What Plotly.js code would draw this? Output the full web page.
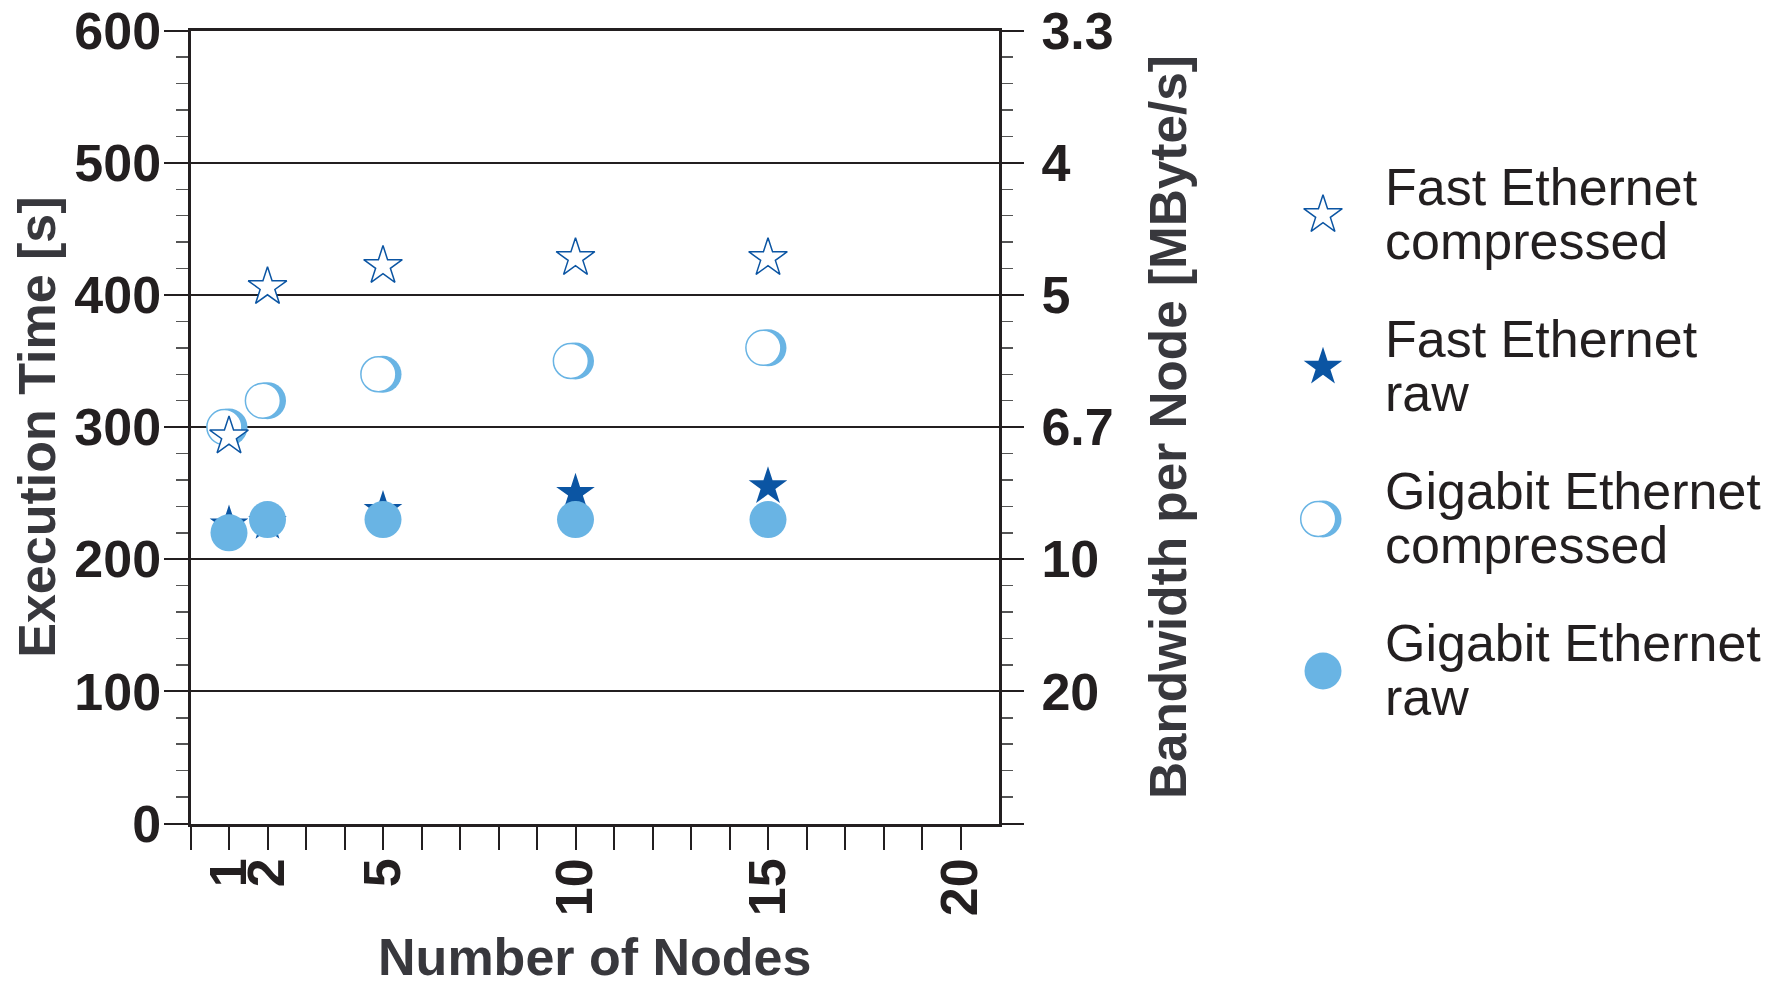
<!DOCTYPE html>
<html>
<head>
<meta charset="utf-8">
<script src="https://cdn.plot.ly/plotly-3.0.1.min.js"></script>
<style>
  html, body { margin: 0; padding: 0; background: #ffffff; }
  #chart { width: 1778px; height: 986px; }
</style>
</head>
<body>
<div id="chart"></div>
<script>
// ---- data ----
const nodes = [1, 2, 5, 10, 15];
const fastCompressed = [293, 406, 422, 428, 428];
const fastRaw = [226, 228, 237, 250, 255];
const gigaCompressed = [300, 320, 340, 350, 360];
const gigaRaw = [220, 230, 230, 230, 230];

const seriesNames = ['Fast Ethernet compressed', 'Fast Ethernet raw', 'Gigabit Ethernet compressed', 'Gigabit Ethernet raw'];
const legendLine1 = ['Fast Ethernet', 'Fast Ethernet', 'Gigabit Ethernet', 'Gigabit Ethernet'];
const legendLine2 = ['compressed', 'raw', 'compressed', 'raw'];

const xTickVals = [0, 1, 2, 3, 4, 5, 6, 7, 8, 9, 10, 11, 12, 13, 14, 15, 16, 17, 18, 19, 20];
const xTickText = ['', '1', '2', '', '', '5', '', '', '', '', '10', '', '', '', '', '15', '', '', '', '', '20'];
const yTickVals = [0, 100, 200, 300, 400, 500, 600];
const yTickText = ['0', '100', '200', '300', '400', '500', '600'];
const bwTickText = ['', '20', '10', '6.7', '5', '4', '3.3'];

// ---- styles ----
const DARK = '#0b55a3';
const LIGHT = '#69b4e4';
const INK = '#231f20';
const TITLE_INK = '#38383d';
const FAMILY = '"Liberation Sans", Arial, Helvetica, sans-serif';
const W = 1778, H = 986;
const plotL = 190.5, plotR = 999, plotT = 30.7, plotB = 823.5;
const xDom = [plotL / W, plotR / W];
const yDom = [1 - plotB / H, 1 - plotT / H];
const ringShift = 0.12;

const legX = 1323;
const legDomX = [(legX - 40) / W, (legX + 40) / W];
const legTop = 139, legBot = 747;
const legDomY = [1 - legBot / H, 1 - legTop / H];

const tickFont = { family: FAMILY, size: 52, weight: 'bold', color: INK };
const titleFont = { family: FAMILY, size: 52, weight: 'bold', color: TITLE_INK };
const rightTitleFont = { family: FAMILY, size: 51.3, weight: 'bold', color: TITLE_INK };

const traces = [
  // Gigabit compressed: blue body (main subplot)
  { x: nodes, y: gigaCompressed, xaxis: 'x', yaxis: 'y', type: 'scatter', mode: 'markers',
    marker: { symbol: 'circle', size: 37, color: LIGHT }, showlegend: false, hoverinfo: 'skip' },
  // Fast raw
  { x: nodes, y: fastRaw, xaxis: 'x', yaxis: 'y2', type: 'scatter', mode: 'markers', name: seriesNames[1],
    marker: { symbol: 'star', size: 29, color: DARK, line: { width: 0 } }, showlegend: false },
  // Gigabit raw
  { x: nodes, y: gigaRaw, xaxis: 'x', yaxis: 'y2', type: 'scatter', mode: 'markers', name: seriesNames[3],
    marker: { symbol: 'circle', size: 37, color: LIGHT }, showlegend: false },
  // Gigabit compressed: white face (shifted overlay)
  { x: nodes, y: gigaCompressed, xaxis: 'x2', yaxis: 'y', type: 'scatter', mode: 'markers', name: seriesNames[2],
    marker: { symbol: 'circle', size: 35, color: '#ffffff', line: { color: LIGHT, width: 1.5 } }, showlegend: false },
  // Fast compressed
  { x: nodes, y: fastCompressed, xaxis: 'x3', yaxis: 'y', type: 'scatter', mode: 'markers', name: seriesNames[0],
    marker: { symbol: 'star', size: 29, color: '#ffffff', line: { color: DARK, width: 1.5 } }, showlegend: false },
  // ---- legend markers ----
  { x: [0], y: [seriesNames[2]], xaxis: 'x4', yaxis: 'y4', type: 'scatter', mode: 'markers',
    marker: { symbol: 'circle', size: 37, color: LIGHT }, showlegend: false, cliponaxis: false },
  { x: [0], y: [seriesNames[2]], xaxis: 'x5', yaxis: 'y4', type: 'scatter', mode: 'markers',
    marker: { symbol: 'circle', size: 35, color: '#ffffff', line: { color: LIGHT, width: 1.5 } }, showlegend: false, cliponaxis: false },
  { x: [0, 0], y: [seriesNames[0], seriesNames[1]], xaxis: 'x4', yaxis: 'y4', type: 'scatter', mode: 'markers',
    marker: { symbol: 'star', size: 29, color: ['#ffffff', DARK], line: { color: DARK, width: [1.5, 0] } },
    showlegend: false, cliponaxis: false },
  { x: [0], y: [seriesNames[3]], xaxis: 'x4', yaxis: 'y4', type: 'scatter', mode: 'markers',
    marker: { symbol: 'circle', size: 37, color: LIGHT }, showlegend: false, cliponaxis: false }
];

const annotations = [];
seriesNames.forEach((name, i) => {
  annotations.push({ xref: 'x4', yref: 'y4', x: 0, y: name, text: legendLine1[i], showarrow: false,
    xanchor: 'left', yanchor: 'middle', xshift: 60, yshift: 28,
    font: { family: FAMILY, size: 52, color: INK } });
  annotations.push({ xref: 'x4', yref: 'y4', x: 0, y: name, text: legendLine2[i], showarrow: false,
    xanchor: 'left', yanchor: 'middle', xshift: 60, yshift: -26,
    font: { family: FAMILY, size: 52, color: INK } });
});

const layout = {
  width: W, height: H,
  margin: { l: 0, r: 0, t: 0, b: 0, pad: 0 },
  paper_bgcolor: '#ffffff', plot_bgcolor: 'rgba(0,0,0,0)',
  font: { family: FAMILY, color: INK },
  showlegend: false,
  hovermode: false,
  xaxis: {
    domain: xDom, anchor: 'y', range: [0, 21],
    tickmode: 'array', tickvals: xTickVals, ticktext: xTickText,
    ticks: 'outside', ticklen: 23, tickwidth: 2, tickcolor: INK,
    tickangle: -90, tickfont: tickFont, ticklabelstandoff: -12,
    showline: true, mirror: true, linewidth: 3, linecolor: INK,
    showgrid: false, zeroline: false,
    title: { text: 'Number of Nodes', font: titleFont, standoff: 48 }
  },
  yaxis: {
    domain: yDom, anchor: 'x', range: [0, 600],
    tickmode: 'array', tickvals: yTickVals, ticktext: yTickText,
    ticks: 'outside', ticklen: 24, tickwidth: 2, tickcolor: INK, tickfont: tickFont,
    ticklabelstandoff: -8,
    minor: { tickmode: 'linear', tick0: 0, dtick: 20, ticks: 'outside', ticklen: 12, tickwidth: 1.5, tickcolor: '#555555', showgrid: false },
    showline: true, linewidth: 3, linecolor: INK,
    showgrid: true, gridcolor: INK, gridwidth: 2, zeroline: false,
    title: { text: 'Execution Time [s]', font: titleFont, standoff: 3 }
  },
  yaxis2: {
    overlaying: 'y', side: 'right', anchor: 'x', range: [0, 600],
    tickmode: 'array', tickvals: yTickVals, ticktext: bwTickText,
    ticks: 'outside', ticklen: 22, tickwidth: 2, tickcolor: INK, tickfont: tickFont,
    ticklabelstandoff: 7,
    minor: { tickmode: 'linear', tick0: 0, dtick: 20, ticks: 'outside', ticklen: 11, tickwidth: 1.5, tickcolor: '#555555', showgrid: false },
    showline: true, linewidth: 3, linecolor: INK,
    showgrid: false, zeroline: false,
    title: { text: 'Bandwidth per Node [MByte/s]', font: rightTitleFont, standoff: 38 }
  },
  xaxis2: { overlaying: 'x', anchor: 'y', range: [0 + ringShift, 21 + ringShift], visible: false },
  xaxis3: { overlaying: 'x', anchor: 'y', range: [0, 21], visible: false },
  xaxis4: { domain: legDomX, anchor: 'y4', range: [-1, 1], visible: false, fixedrange: true },
  xaxis5: { overlaying: 'x4', anchor: 'y4', range: [-1 + ringShift, 1 + ringShift], visible: false },
  yaxis4: { domain: legDomY, anchor: 'x4', type: 'category', categoryorder: 'array', categoryarray: seriesNames,
    range: [3.5, -0.5], visible: false },
  annotations: annotations
};

Plotly.newPlot('chart', traces, layout, { staticPlot: true, displayModeBar: false });
</script>
</body>
</html>
